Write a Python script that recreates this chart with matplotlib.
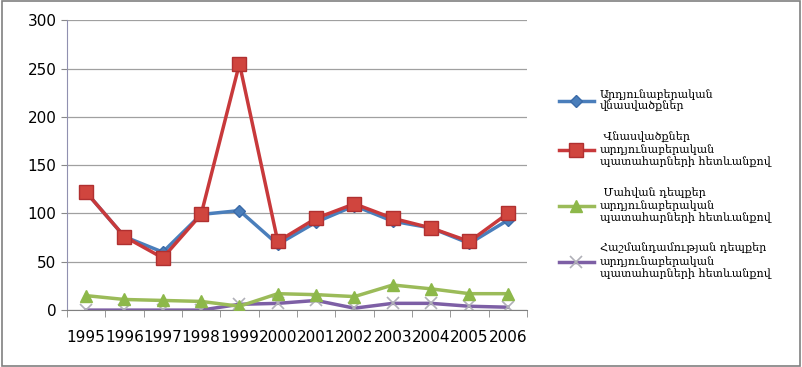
import matplotlib.pyplot as plt
from matplotlib.ticker import FixedLocator

# Տվյալներ
tarinner = ["1995", "1996", "1997", "1998", "1999", "2000",
            "2001", "2002", "2003", "2004", "2005", "2006"]
vnasvacq = [122, 76, 60, 99, 103, 68, 91, 108, 92, 85, 69, 93]
vnasvacq_patahar = [122, 76, 54, 99, 255, 71, 95, 110, 95, 85, 71, 100]
mahvan_depqer = [15, 11, 10, 9, 4, 17, 16, 14, 26, 22, 17, 17]
hashmandam_depqer = [0, 0, 0, 0, 6, 7, 10, 2, 7, 7, 4, 3]

anunner = [
    "Արդյունաբերական\nվնասվածքներ",
    " Վնասվածքներ\nարդյունաբերական\nպատահարների հետևանքով",
    " Մահվան դեպքեր\nարդյունաբերական\nպատահարների հետևանքով",
    "Հաշմանդամության դեպքեր\nարդյունաբերական\nպատահարների հետևանքով",
]

fig = plt.figure(figsize=(8.02, 3.67), dpi=100)
fig.patches.append(plt.Rectangle((0.002, 0.004), 0.996, 0.992, transform=fig.transFigure,
                                 fill=False, edgecolor="#808080", linewidth=1.2))
ax = fig.add_axes([0.0835, 0.155, 0.5735, 0.79])

x = list(range(len(tarinner)))
ax.plot(x, vnasvacq, color="#4A7EBB", linewidth=2.5, marker="D", markersize=6,
        markerfacecolor="#4A7EBB", markeredgecolor="#3A6AA8", label=anunner[0], zorder=4)
ax.plot(x, vnasvacq_patahar, color="#C8393B", linewidth=2.5, marker="s", markersize=10,
        markerfacecolor="#D0453E", markeredgecolor="#B03030", label=anunner[1], zorder=5)
ax.plot(x, mahvan_depqer, color="#9BBB59", linewidth=2.5, marker="^", markersize=8,
        markerfacecolor="#8DB84A", markeredgecolor="#8DB84A", label=anunner[2], zorder=3)
ax.plot(x, hashmandam_depqer, color="#7D5FA5", linewidth=2.5, marker="x", markersize=9,
        markeredgecolor="#B0B0B8", markeredgewidth=1.2, label=anunner[3], zorder=2)

ax.set_xlim(-0.5, len(tarinner) - 0.5)
ax.set_ylim(0, 300)
ax.set_yticks(range(0, 301, 50))
ax.set_xticks(x)
ax.set_xticklabels(tarinner, fontsize=11)
ax.tick_params(axis="x", which="major", length=0, pad=14)
ax.xaxis.set_minor_locator(FixedLocator([i - 0.5 for i in range(len(tarinner) + 1)]))
ax.tick_params(axis="x", which="minor", length=5, color="#888888", direction="out")
ax.tick_params(axis="y", labelsize=11, length=4, color="#888888")
ax.grid(axis="y", color="#A0A0A0", linewidth=0.9)
ax.set_axisbelow(True)
for s in ["top", "right"]:
    ax.spines[s].set_visible(False)
ax.spines["left"].set_color("#9090B0")
ax.spines["bottom"].set_color("#808080")

fig.legend(loc="upper left", bbox_to_anchor=(0.684, 0.785), frameon=False,
           prop={"family": "DejaVu Serif", "size": 8}, handlelength=3.2,
           labelspacing=1.75, handletextpad=0.5)

plt.savefig("out.png", dpi=100)
